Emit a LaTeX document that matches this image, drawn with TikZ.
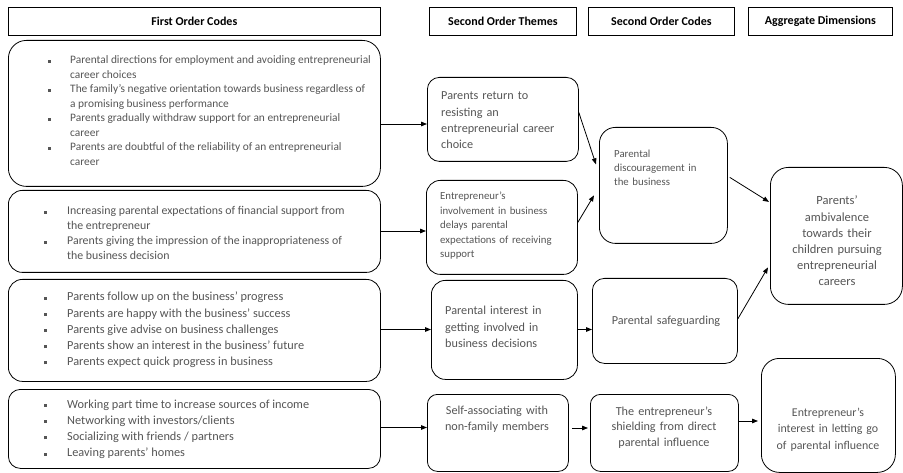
\documentclass[tikz,border=0pt]{standalone}
\usepackage{fontspec}
\setmainfont{Carlito}
\usetikzlibrary{arrows.meta,calc}
\definecolor{txtgray}{HTML}{555555}
\newcommand\bul[1]{\makebox[#1][l]{\raisebox{\dimexpr0.23em-1.5pt\relax}{\rule{3pt}{3pt}}}}
\newcommand\fs[2]{\fontsize{#1}{#2}\selectfont}
\begin{document}
\begin{tikzpicture}[x=1pt,y=-1pt,
  hdr/.style={draw, line width=0.8pt, inner sep=0pt, anchor=north west, font=\bfseries\fs{12}{14}},
  rbox/.style={draw, line width=0.8pt, rounded corners=#1, inner sep=0pt, anchor=north west},
  ltxt/.style={inner sep=0pt, anchor=base west, text width=#1, align=left, text=txtgray},
  ctxt/.style={inner sep=0pt, anchor=base, text width=#1, align=center, text=txtgray},
  btxt/.style={inner sep=0pt, anchor=base west, text=txtgray},
  arr/.style={line width=0.8pt, -{Triangle[length=6pt,width=4.6pt]}}
]
\useasboundingbox (0,0) rectangle (903,473);

% headers
\node[hdr, minimum width=372pt, minimum height=28pt] (h1) at (8,7) {First Order Codes};
\node[hdr, minimum width=147pt, minimum height=28pt] (h2) at (429,7) {Second Order Themes};
\node[hdr, minimum width=146pt, minimum height=28pt] (h3) at (588,7) {Second Order Codes};
\node[hdr, minimum width=144pt, minimum height=28pt] (h4) at (748,7) {Aggregate Dimensions};

% first order boxes
\node[rbox=18pt, minimum width=372pt, minimum height=146pt] (b1) at (8,40) {};
\node[rbox=14pt, minimum width=372pt, minimum height=82pt] (b2) at (8,190) {};
\node[rbox=14pt, minimum width=372pt, minimum height=102pt] (b3) at (8,279) {};
\node[rbox=12pt, minimum width=372pt, minimum height=79pt] (b4) at (8,389) {};

% second order themes
\node[rbox=12pt, minimum width=151pt, minimum height=84pt] (t1) at (427,77) {};
\node[rbox=14pt, minimum width=151pt, minimum height=94pt] (t2) at (426,180) {};
\node[rbox=14pt, minimum width=146pt, minimum height=99pt] (t3) at (431,280) {};
\node[rbox=10pt, minimum width=141pt, minimum height=77pt] (t4) at (427,394) {};

% second order codes
\node[rbox=16pt, minimum width=128pt, minimum height=116pt] (c1) at (599,127) {};
\node[rbox=12pt, minimum width=145pt, minimum height=85pt] (c2) at (592,278) {};
\node[rbox=10pt, minimum width=148pt, minimum height=77pt] (c3) at (590,394) {};

% aggregate
\node[rbox=18pt, minimum width=132pt, minimum height=137pt] (a1) at (770,167) {};
\node[rbox=18pt, minimum width=134pt, minimum height=114pt] (a2) at (761,358) {};

% texts first order
\node[btxt, font=\fs{11.4}{14.5}] (b1t) at (47.5,64) {\def\arraystretch{1}%
\begin{tabular}[t]{@{}l@{}l@{}}
\bul{22.5pt} & Parental directions for employment and avoiding entrepreneurial\\
 & career choices\\
\bul{22.5pt} & The family’s negative orientation towards business regardless of\\
 & a promising business performance\\
\bul{22.5pt} & Parents gradually withdraw support for an entrepreneurial\\
 & career\\
\bul{22.5pt} & Parents are doubtful of the reliability of an entrepreneurial\\
 & career
\end{tabular}};

\node[btxt, font=\fs{11.85}{15}] (b2t) at (43.5,215) {\def\arraystretch{1}%
\begin{tabular}[t]{@{}l@{}l@{}}
\bul{23.5pt} & Increasing parental expectations of financial support from\\
 & the entrepreneur\\
\bul{23.5pt} & Parents giving the impression of the inappropriateness of\\
 & the business decision
\end{tabular}};

\node[btxt, font=\fs{12.3}{16.2}] (b3t) at (43.5,301) {\def\arraystretch{1}%
\begin{tabular}[t]{@{}l@{}l@{}}
\bul{23.5pt} & Parents follow up on the business’ progress\\
\bul{23.5pt} & Parents are happy with the business’ success\\
\bul{23.5pt} & Parents give advise on business challenges\\
\bul{23.5pt} & Parents show an interest in the business’ future\\
\bul{23.5pt} & Parents expect quick progress in business
\end{tabular}};

\node[btxt, font=\fs{12.3}{16.3}] (b4t) at (43.5,408) {\def\arraystretch{1}%
\begin{tabular}[t]{@{}l@{}l@{}}
\bul{23.5pt} & Working part time to increase sources of income\\
\bul{23.5pt} & Networking with investors/clients\\
\bul{23.5pt} & Socializing with friends / partners\\
\bul{23.5pt} & Leaving parents’ homes
\end{tabular}};

% texts themes
\node[ltxt=140pt, font=\fs{12.2}{16.2}] (t1t) at (441,100) {Parents return to\\ resisting an\\ entrepreneurial career\\ choice};
\node[ltxt=140pt, font=\fs{10.8}{14.5}] (t2t) at (440,200) {Entrepreneur’s\\ involvement in business\\ delays parental\\ expectations of receiving\\ support};
\node[ltxt=140pt, font=\fs{12.2}{16.5}] (t3t) at (445,315) {Parental interest in\\ getting involved in\\ business decisions};
\node[ctxt=140pt, font=\fs{12.2}{16.5}] (t4t) at (497,414) {Self-associating with\\ non-family members};

% texts codes
\node[ltxt=120pt, font=\fs{10.8}{14}] (c1t) at (614,158) {Parental\\ discouragement in\\ the business};
\node[ctxt=140pt, font=\fs{12.2}{16}] (c2t) at (666,324) {Parental safeguarding};
\node[ctxt=140pt, font=\fs{12.2}{15.7}] (c3t) at (664,415) {The entrepreneur’s\\ shielding from direct\\ parental influence};

% texts aggregate
\node[ctxt=130pt, font=\fs{12.5}{16.2}] (a1t) at (837,205) {Parents’\\ ambivalence\\ towards their\\ children pursuing\\ entrepreneurial\\ careers};
\node[ctxt=130pt, font=\fs{11.9}{16.5}] (a2t) at (828,416) {Entrepreneur’s\\ interest in letting go\\ of parental influence};

% rows for horizontal arrows
\coordinate (r1) at (0,124);
\coordinate (r2) at (0,231);
\coordinate (r3) at (0,329.5);
\coordinate (r4) at (0,427.5);
\coordinate (r5) at (0,428);
\coordinate (r6) at (0,421);

\draw[arr] (b1.east |- r1) -- (t1.west |- r1);
\draw[arr] (b2.east |- r2) -- (t2.west |- r2);
\draw[arr] (b3.east |- r3) -- (t3.west |- r3);
\draw[arr] (b4.east |- r4) -- (t4.west |- r4);
\draw[arr] (t3.east |- r3) -- (c2.west |- r3);
\draw[arr, shorten <=3pt, shorten >=2pt] (t4.east |- r5) -- (c3.west |- r5);
\draw[arr, shorten >=3pt] (c3.east |- r6) -- (a2.west |- r6);

\draw[arr] ($(t1.east)+(0,-7)$) -- ($(c1.west)+(-3,-21)$);
\draw[arr] ($(t2.east)+(0,-5)$) -- ($(c1.west)+(-5,10)$);
\draw[arr] ($(c1.east)+(2,-8)$) -- ($(a1.west)+(-1,-34)$);
\draw[arr] ($(c2.east)+(0,-2)$) -- ($(a1.west)+(-2,31.5)$);
\end{tikzpicture}
\end{document}
